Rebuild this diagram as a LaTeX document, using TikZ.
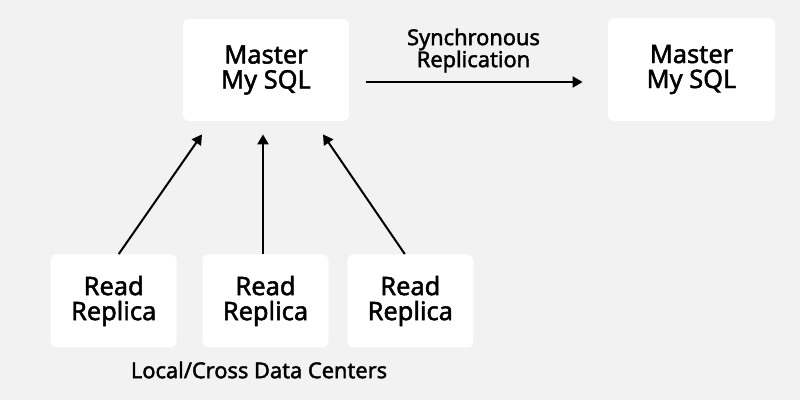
\documentclass[tikz,border=0pt]{standalone}
\usepackage{fontspec}
\setmainfont{Noto Sans}[AutoFakeBold=1.8]
\usetikzlibrary{positioning}
\usetikzlibrary{arrows.meta}

\definecolor{sfondo}{RGB}{242,242,242}

\begin{document}
\begin{tikzpicture}[
    x=0.5pt, y=-0.5pt,
    box/.style={fill=white, rounded corners=3pt, inner sep=0pt,
                align=center, font=\bfseries\fontsize{12.7}{12.5}\selectfont},
    freccia/.style={line width=1pt, -{Triangle[length=5pt,width=5.5pt]}},
    testo/.style={font=\bfseries\fontsize{10.9}{11}\selectfont, align=center}]

    % Sfondo e dimensioni della figura
    \fill[sfondo] (0,0) rectangle (800,400);
    \useasboundingbox (0,0) rectangle (800,400);

    % Nodi master
    \node[box, minimum width=83pt, minimum height=51pt] (m) at (266,70) {Master\\My SQL};
    \node[box, minimum width=83.5pt, minimum height=51.5pt] (s) at (691.5,69.5) {Master\\My SQL};

    % Repliche di lettura
    \node[box, minimum width=63pt, minimum height=46.5pt] (r2) at (265.5,301) {Read\\Replica};
    \node[box, minimum width=63pt, minimum height=46.5pt, left=12.5pt of r2] (r1) {Read\\Replica};
    \node[box, minimum width=63pt, minimum height=46.5pt, right=9pt of r2] (r3) {Read\\Replica};

    \node[testo] (dc) at (259,370) {Local/Cross Data Centers};

    % Frecce verso il master
    \draw[freccia] ([xshift=2.5pt]r1.north) -- ([xshift=-32pt,yshift=-6.5pt]m.south);
    \draw[freccia] ([xshift=-1.25pt]r2.north) -- ([xshift=-1.5pt,yshift=-6.5pt]m.south);
    \draw[freccia] ([xshift=-2.75pt]r3.north) -- ([xshift=28.5pt,yshift=-6.5pt]m.south);

    % Replica sincrona
    \draw[freccia, shorten <=8.5pt, shorten >=12.5pt] ([yshift=-6pt]m.east) -- ([yshift=-6.25pt]s.west)
        node[testo, midway, above=1pt, xshift=-2.5pt] (sync) {Synchronous\\Replication};
\end{tikzpicture}
\end{document}
